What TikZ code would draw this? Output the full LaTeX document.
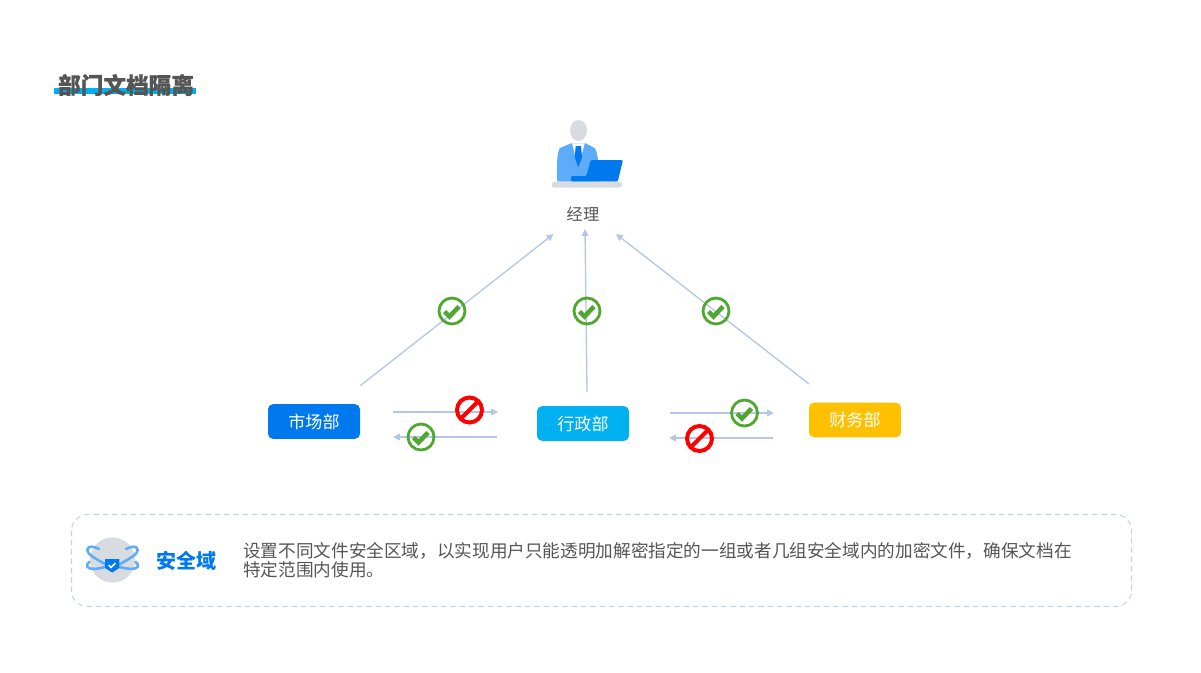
\documentclass[tikz,border=0pt]{standalone}
\usepackage{fontspec}
\setmainfont{Noto Sans CJK SC}
\newfontfamily\titlefont[BoldFeatures={FakeBold=0.7}]{Noto Sans CJK SC}
\usetikzlibrary{arrows.meta}
\definecolor{arrowc}{HTML}{B4C7E7}
\definecolor{okgreen}{HTML}{4EA72E}
\definecolor{blueA}{HTML}{0078EE}
\definecolor{blueB}{HTML}{00B0F0}
\definecolor{amber}{HTML}{FFC000}
\definecolor{greyc}{HTML}{D8DBE0}
\definecolor{lightblue}{HTML}{5CACFA}
\definecolor{txt}{HTML}{555555}
\tikzset{
  dept/.style={rounded corners=3.8pt,minimum width=69pt,minimum height=26pt,inner sep=0pt,text=white,font=\fontsize{12.8}{14}\selectfont},
  flow/.style={draw=arrowc,line width=1pt,-{Triangle[length=5.2pt,width=5pt]}},
  okb/.pic={\draw[okgreen,line width=2.1pt] (0,0) circle (13);
    \draw[okgreen,line width=3.4pt] (-7.5,0.5) -- (-2.5,5.5) -- (7,-4.5);},
  nob/.pic={\draw[red,line width=3pt] (0,0) circle (12.5);
    \draw[red,line width=3pt] (8.8,-8.8) -- (-8.8,8.8);},
  orbit/.style={draw=lightblue,line width=1.9pt,line cap=round},
}
\begin{document}
\begin{tikzpicture}[x=0.75pt,y=-0.75pt]
\useasboundingbox (0,0) rectangle (1201,672);
% title
\fill[blueB] (54,88) rectangle (196,93.5);
\node[anchor=center,text=txt,font=\titlefont\bfseries\fontsize{17}{20}\selectfont,inner sep=0pt] (title) at (126,85) {部门文档隔离};
% manager icon
\fill[greyc] (578.5,130.5) ellipse (8.5 and 10.5);
\fill[lightblue] (557.3,181.7) .. controls (556.5,165) and (557,152) .. (560,148) -- (571,143.3) -- (585.7,143.3) -- (595,148.3) .. controls (596.5,151) and (597.5,155) .. (598,160) -- (598,181.7) -- cycle;
\fill[white] (572,143.3) -- (584.7,143.3) -- (578.3,168) -- cycle;
\fill[blueA] (575.7,146) -- (581,146) -- (582,157) -- (578.3,168) -- (574.7,157) -- cycle;
\fill[blueA,rounded corners=1pt] (571,176) -- (586.5,176) -- (590.7,160) -- (623,160) -- (617.7,181.7) -- (571,181.7) -- cycle;
\fill[greyc,rounded corners=2pt] (551.5,181.7) rectangle (622,187.5);
\node[text=txt,font=\fontsize{12.2}{14}\selectfont,inner sep=0pt] (mgr) at (583,214.5) {经理};
% departments
\node[dept,fill=blueA] (mkt) at (314,421.5) {市场部};
\node[dept,fill=blueB] (adm) at (583,423.5) {行政部};
\node[dept,fill=amber] (fin) at (855,420) {财务部};
% arrow ends
\coordinate (a1) at (360.5,385.5); \coordinate (a2) at (553.5,234);
\coordinate (b1) at (587,392); \coordinate (b2) at (585,229);
\coordinate (c1) at (809,384); \coordinate (c2) at (616,234);
\coordinate (d1) at (393,412); \coordinate (d2) at (498,412);
\coordinate (e1) at (497,437); \coordinate (e2) at (393,437);
\coordinate (f1) at (670,413); \coordinate (f2) at (774,413);
\coordinate (g1) at (773,438); \coordinate (g2) at (669,438);
\draw[flow] (a1) -- (a2);
\draw[flow] (b1) -- (b2);
\draw[flow] (c1) -- (c2);
\draw[flow] (d1) -- (d2);
\draw[flow] (e1) -- (e2);
\draw[flow] (f1) -- (f2);
\draw[flow] (g1) -- (g2);
% badges
\pic at (452,311) {okb};
\pic at (587,311) {okb};
\pic at (716,311) {okb};
\pic at (421,437) {okb};
\pic at (744.5,413) {okb};
\pic at (469.5,410) {nob};
\pic at (699.5,438.5) {nob};
% bottom panel
\draw[draw=arrowc!80,line width=0.8pt,dash pattern=on 4pt off 3pt,rounded corners=12pt] (71.5,514.5) rectangle (1131.5,606.5);
\fill[greyc] (112.5,560) circle (22.6);
\draw[orbit] (99,549) .. controls (94,546.5) and (88,545) .. (87.3,550) .. controls (87,554) and (96,559) .. (105,564);
\draw[orbit] (105,567) .. controls (98,569) and (90,570) .. (87.5,567) .. controls (86.5,565) and (87.5,563) .. (89.5,561.7);
\draw[orbit] (126,549) .. controls (131,546.5) and (137,545) .. (137.7,550) .. controls (138,554) and (129,559) .. (120,564);
\draw[orbit] (120,567) .. controls (127,569) and (135,570) .. (137.5,567) .. controls (138.5,565) and (137.5,563) .. (135.5,561.7);
\fill[blueA] (105,559) -- (119.3,559) -- (119.3,568) -- (112.2,572.5) -- (105,568) -- cycle;
\draw[white,line width=1.3pt] (108.5,565) -- (111,567.5) -- (115.5,563);
\node[text=blueA,font=\fontsize{15}{18}\bfseries\selectfont,inner sep=0pt] (sec) at (186,561) {安全域};
\node[anchor=north west,text=txt,font=\fontsize{13.22}{14.4}\selectfont,inner sep=0pt,align=left] (desc) at (243,542.5) {设置不同文件安全区域，以实现用户只能透明加解密指定的一组或者几组安全域内的加密文件，确保文档在\\特定范围内使用。};
\end{tikzpicture}
\end{document}
